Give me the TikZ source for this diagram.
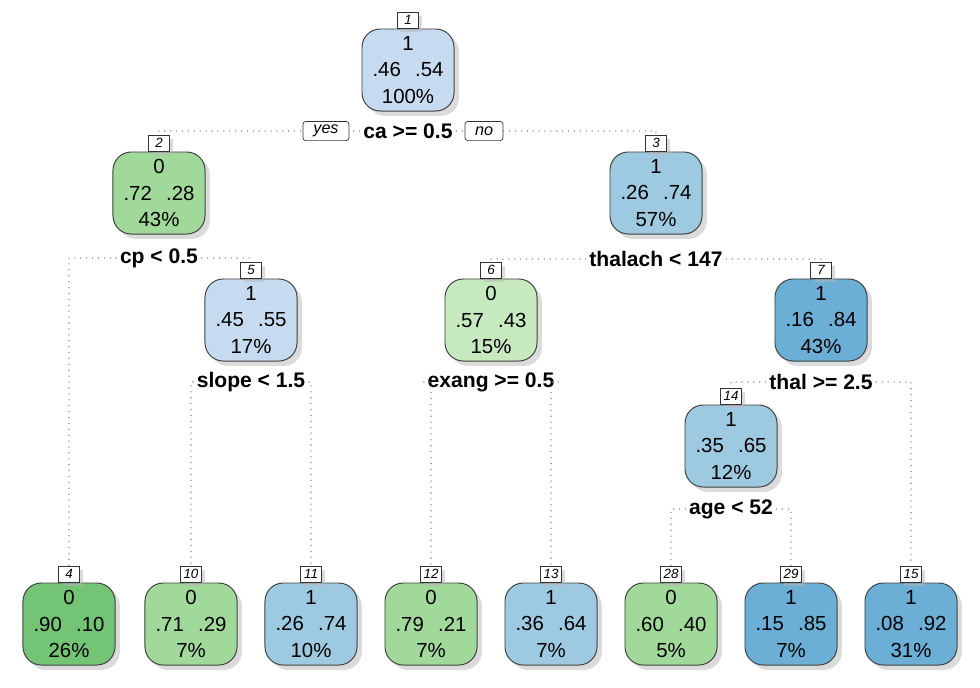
\documentclass[tikz,border=0pt]{standalone}
\usepackage{fontspec}
\setmainfont{Liberation Sans}
\usepackage{xcolor}
\usetikzlibrary{
  positioning,
  shadows}

\definecolor{grA}{HTML}{C7E9C0}
\definecolor{grB}{HTML}{A1D99B}
\definecolor{grC}{HTML}{74C476}
\definecolor{blA}{HTML}{C6DBEF}
\definecolor{blB}{HTML}{9ECAE1}
\definecolor{blC}{HTML}{6BAED6}
\newcommand{\pgap}{\hspace{0.7em}}

\begin{document}
\begin{tikzpicture}[x=0.025cm,y=-0.025cm,
  tnode/.style={draw=black!75, line width=0.7pt, rounded corners=13pt,
    minimum width=2.3cm, minimum height=2.05cm, align=center,
    font=\fontsize{14.5}{19}\selectfont,
    drop shadow={shadow xshift=3.5pt, shadow yshift=-3.5pt, fill=black!28}},
  numlab/.style={draw=black!80, fill=white, line width=0.5pt, inner sep=1pt,
    minimum width=0.52cm, minimum height=0.4cm,
    font=\fontsize{9.5}{10}\selectfont\itshape,
    drop shadow={shadow xshift=2.5pt, shadow yshift=-2.5pt, fill=black!28}},
  splitlab/.style={font=\fontsize{15}{16}\selectfont\bfseries, inner sep=2.5pt},
  yesno/.style={draw=black!80, fill=white, line width=0.5pt, rounded corners=2pt,
    minimum width=1.15cm, minimum height=0.48cm, inner sep=1pt,
    font=\fontsize{11.5}{12}\selectfont\itshape},
  branch/.style={draw=black!45, line width=1.1pt, line cap=round,
    dash pattern=on 0pt off 4.2pt}]
  \useasboundingbox (0,0) rectangle (980,687);

  % inner nodes
  \node[tnode, fill=blA] (n1) at (408,70) {1\\.46\pgap.54\\100\%};
  \node[tnode, fill=grB] (n2) at (159,193) {0\\.72\pgap.28\\43\%};
  \node[tnode, fill=blB] (n3) at (656,193) {1\\.26\pgap.74\\57\%};
  \node[tnode, fill=blA] (n5) at (251,320) {1\\.45\pgap.55\\17\%};
  \node[tnode, fill=grA] (n6) at (491,320) {0\\.57\pgap.43\\15\%};
  \node[tnode, fill=blC] (n7) at (821,320) {1\\.16\pgap.84\\43\%};
  \node[tnode, fill=blB] (n14) at (731,446) {1\\.35\pgap.65\\12\%};

  % leaves
  \node[tnode, fill=grC] (n4) at (69,624) {0\\.90\pgap.10\\26\%};
  \node[tnode, fill=grB] (n10) at (191,624) {0\\.71\pgap.29\\7\%};
  \node[tnode, fill=blB] (n11) at (311,624) {1\\.26\pgap.74\\10\%};
  \node[tnode, fill=grB] (n12) at (431,624) {0\\.79\pgap.21\\7\%};
  \node[tnode, fill=blB] (n13) at (551,624) {1\\.36\pgap.64\\7\%};
  \node[tnode, fill=grB] (n28) at (671,624) {0\\.60\pgap.40\\5\%};
  \node[tnode, fill=blC] (n29) at (791,624) {1\\.15\pgap.85\\7\%};
  \node[tnode, fill=blC] (n15) at (911,624) {1\\.08\pgap.92\\31\%};

  % node numbers
  \node[numlab, above=0pt of n1] (l1) {1};
  \node[numlab, above=0pt of n2] (l2) {2};
  \node[numlab, above=0pt of n3] (l3) {3};
  \node[numlab, above=0pt of n4] (l4) {4};
  \node[numlab, above=0pt of n5] (l5) {5};
  \node[numlab, above=0pt of n6] (l6) {6};
  \node[numlab, above=0pt of n7] (l7) {7};
  \node[numlab, above=0pt of n10] (l10) {10};
  \node[numlab, above=0pt of n11] (l11) {11};
  \node[numlab, above=0pt of n12] (l12) {12};
  \node[numlab, above=0pt of n13] (l13) {13};
  \node[numlab, above=0pt of n14] (l14) {14};
  \node[numlab, above=0pt of n15] (l15) {15};
  \node[numlab, above=0pt of n28] (l28) {28};
  \node[numlab, above=0pt of n29] (l29) {29};

  % splits
  \node[splitlab] (s1) at (408,131) {ca >= 0.5};
  \node[splitlab] (s2) at (159,258) {cp < 0.5};
  \node[splitlab] (s3) at (656,259) {thalach < 147};
  \node[splitlab] (s5) at (251,382) {slope < 1.5};
  \node[splitlab] (s6) at (491,382) {exang >= 0.5};
  \node[splitlab] (s7) at (821,382) {thal >= 2.5};
  \node[splitlab] (s14) at (731,509) {age < 52};

  \draw[branch] (s1.west) -| (l2.north);
  \draw[branch] (s1.east) -| (l3.north);
  \draw[branch] (s2.west) -| (l4.north);
  \draw[branch] (s2.east) -| (l5.north);
  \draw[branch] (s3.west) -| (l6.north);
  \draw[branch] (s3.east) -| (l7.north);
  \draw[branch] (s5.west) -| (l10.north);
  \draw[branch] (s5.east) -| (l11.north);
  \draw[branch] (s6.west) -| (l12.north);
  \draw[branch] (s6.east) -| (l13.north);
  \draw[branch] (s7.west) -| (l14.north);
  \draw[branch] (s7.east) -| (l15.north);
  \draw[branch] (s14.west) -| (l28.north);
  \draw[branch] (s14.east) -| (l29.north);

  \node[yesno] (yes) at (326,131) {yes};
  \node[yesno, minimum width=0.95cm] (no) at (484,131) {no};
\end{tikzpicture}
\end{document}
